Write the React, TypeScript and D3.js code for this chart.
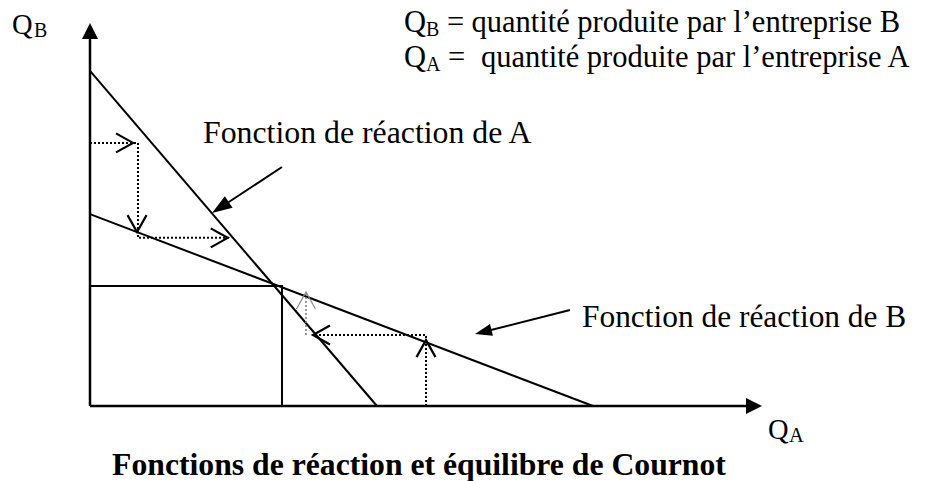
import React from "react";
import * as d3 from "d3";

// ---- data (in chart units: Q_A horizontal, Q_B vertical) ----
const axisMax = [100, 100];
const reactionA: [number, number][] = [[0, 87.5], [42.7, 0]];
const reactionB: [number, number][] = [[0, 50.1], [74.85, 0]];
const equilibrium: [number, number] = [28.57, 31.3];
const adjustUpper: [number, number][] = [[0, 68.7], [7.14, 68.7], [7.14, 43.9], [20.8, 43.9]];
const adjustLower: [number, number][] = [[50, 0], [50, 18.54], [33.18, 18.54]];
const adjustLowerGrey: [number, number][] = [[32.14, 18.54], [32.14, 29.5]];
const chevrons: { qa: number; qb: number; dir: string; grey?: boolean }[] = [
  { qa: 6.4, qb: 68.7, dir: "right" },
  { qa: 7.0, qb: 45.4, dir: "down" },
  { qa: 20.5, qb: 43.9, dir: "right" },
  { qa: 50, qb: 17.2, dir: "up" },
  { qa: 33.18, qb: 18.54, dir: "left" },
  { qa: 32.14, qb: 29.77, dir: "up", grey: true },
];
const labelA = "Fonction de réaction de A";
const labelB = "Fonction de réaction de B";
const title = "Fonctions de réaction et équilibre de Cournot";
const legendSubs = ["B", "A"];
const legendTexts = [
  "quantité produite par l’entreprise B",
  "quantité produite par l’entreprise A",
];

const W = 930;
const H = 481;

export default function App() {
  const x = d3.scaleLinear().domain([0, axisMax[0]]).range([90, 762]);
  const y = d3.scaleLinear().domain([0, axisMax[1]]).range([406, 23]);
  const line = d3
    .line<[number, number]>()
    .x((d) => x(d[0]))
    .y((d) => y(d[1]));

  const chevronPath = (c: { qa: number; qb: number; dir: string }) => {
    const tx = x(c.qa);
    const ty = y(c.qb);
    const L = 17;
    const S = 9.5;
    let a: [number, number], b: [number, number];
    if (c.dir === "right") {
      a = [tx - L, ty - S];
      b = [tx - L, ty + S];
    } else if (c.dir === "left") {
      a = [tx + L, ty - S];
      b = [tx + L, ty + S];
    } else if (c.dir === "down") {
      a = [tx - S, ty - L];
      b = [tx + S, ty - L];
    } else {
      a = [tx - S, ty + L];
      b = [tx + S, ty + L];
    }
    return `M${a[0]},${a[1]}L${tx},${ty}L${b[0]},${b[1]}`;
  };

  const arrowHead = (x1: number, y1: number, x2: number, y2: number, len: number, half: number) => {
    const ang = Math.atan2(y2 - y1, x2 - x1);
    const bx = x2 - len * Math.cos(ang);
    const by = y2 - len * Math.sin(ang);
    const px = -Math.sin(ang) * half;
    const py = Math.cos(ang) * half;
    return `M${x2},${y2}L${bx + px},${by + py}L${bx - px},${by - py}Z`;
  };

  const x0 = x(0);
  const y0 = y(0);
  const xEnd = x(axisMax[0]);
  const yEnd = y(axisMax[1]);

  const arrA = { x1: 282, y1: 167, x2: 212, y2: 213 };
  const arrB = { x1: 570, y1: 310, x2: 475, y2: 334 };

  const font = "'Liberation Serif', 'Times New Roman', serif";

  return (
    <svg
      width={W}
      height={H}
      style={{ position: "absolute", left: 0, top: 0, background: "#fff" }}
      fontFamily={font}
    >
      <rect width={W} height={H} fill="#fff" />
      {/* axes */}
      <line x1={x0} y1={y0} x2={x0} y2={yEnd + 14} stroke="#000" strokeWidth={2.5} />
      <path d={`M${x0},${yEnd}L${x0 - 8},${yEnd + 16}L${x0 + 8},${yEnd + 16}Z`} fill="#000" />
      <line x1={x0} y1={y0} x2={xEnd - 14} y2={y0} stroke="#000" strokeWidth={2.5} />
      <path d={`M${xEnd},${y0}L${xEnd - 16},${y0 - 8}L${xEnd - 16},${y0 + 8}Z`} fill="#000" />

      {/* reaction functions */}
      <path d={line(reactionA) || ""} stroke="#000" strokeWidth={2} fill="none" />
      <path d={line(reactionB) || ""} stroke="#000" strokeWidth={2} fill="none" />

      {/* equilibrium */}
      <path
        d={line([[0, equilibrium[1]], equilibrium, [equilibrium[0], 0]]) || ""}
        stroke="#000"
        strokeWidth={2}
        fill="none"
      />

      {/* adjustment paths */}
      <path d={line(adjustUpper) || ""} stroke="#000" strokeWidth={2} strokeDasharray="2,2" fill="none" />
      <path d={line(adjustLower) || ""} stroke="#000" strokeWidth={2} strokeDasharray="2,2" fill="none" />
      <path d={line(adjustLowerGrey) || ""} stroke="#777" strokeWidth={1.5} strokeDasharray="2,2" fill="none" />
      {chevrons.map((c, i) => (
        <path
          key={i}
          d={chevronPath(c)}
          stroke={c.grey ? "#888" : "#000"}
          strokeWidth={c.grey ? 1.2 : 2.2}
          fill="none"
        />
      ))}

      {/* label arrows */}
      <line x1={arrA.x1} y1={arrA.y1} x2={arrA.x2 + 10} y2={arrA.y2 - 6.5} stroke="#000" strokeWidth={2} />
      <path d={arrowHead(arrA.x1, arrA.y1, arrA.x2, arrA.y2, 20, 7)} fill="#000" />
      <line x1={arrB.x1} y1={arrB.y1} x2={arrB.x2 + 10} y2={arrB.y2 - 2.5} stroke="#000" strokeWidth={2} />
      <path d={arrowHead(arrB.x1, arrB.y1, arrB.x2, arrB.y2, 17, 6)} fill="#000" />

      {/* labels */}
      <text x={203} y={143} fontSize={31.8}>{labelA}</text>
      <text x={582} y={327} fontSize={31.4}>{labelB}</text>

      {/* axis names */}
      <text x={12} y={34} fontSize={28.5}>Q</text>
      <text x={34} y={37} fontSize={20}>B</text>
      <text x={768} y={439} fontSize={28.5}>Q</text>
      <text x={789} y={442} fontSize={20.5}>A</text>

      {/* legend */}
      {legendTexts.map((t, i) => (
        <g key={i} fontSize={30.5}>
          <text x={404} y={32 + i * 35}>Q</text>
          <text x={426} y={36 + i * 35} fontSize={20}>{legendSubs[i]}</text>
          <text x={i === 0 ? 447 : 448} y={32 + i * 35}>=</text>
          <text x={i === 0 ? 471.5 : 481} y={32 + i * 35}>{t}</text>
        </g>
      ))}

      {/* title */}
      <text x={419} y={475} fontSize={31.7} fontWeight="bold" textAnchor="middle">
        {title}
      </text>
    </svg>
  );
}
